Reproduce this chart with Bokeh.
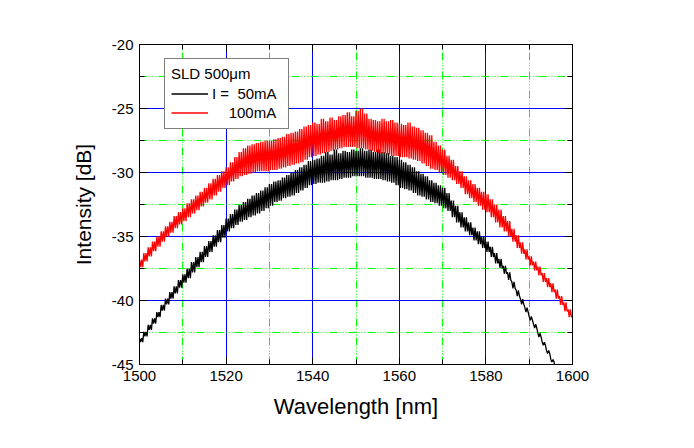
from bokeh.plotting import figure
from bokeh.models import (Range1d, SingleIntervalTicker, LinearAxis, Legend, LegendItem,
                          CustomJSTickFormatter)
from bokeh.embed import file_html
from bokeh.resources import INLINE

# ---- data (1 nm steps, ripple upper / lower envelope) ----
wavelength = list(range(1500, 1601))

black_upper = [
    -42.95, -42.45, -41.9, -41.4, -40.9, -40.35, -39.85, -39.35, -38.9, -38.4,
    -37.95, -37.5, -37.0, -36.6, -36.2, -35.75, -35.35, -34.9, -34.5, -34.1,
    -33.6, -33.25, -32.9, -32.55, -32.3, -32.05, -31.8, -31.6, -31.4, -31.15,
    -30.9, -30.7, -30.6, -30.4, -30.2, -30.0, -29.8, -29.6, -29.4, -29.1,
    -29.0, -28.9, -28.7, -28.4, -28.6, -28.2, -28.5, -28.3, -28.4, -28.2,
    -28.3, -28.1, -28.3, -28.2, -28.4, -28.2, -28.4, -28.5, -28.7, -28.8,
    -29.0, -29.2, -29.4, -29.6, -29.9, -30.1, -30.3, -30.6, -30.8, -31.0,
    -31.2, -31.6, -32.2, -32.6, -33.1, -33.5, -33.9, -34.3, -34.6, -35.0,
    -35.4, -35.8, -36.3, -36.75, -37.3, -37.8, -38.55, -39.2, -39.9, -40.55,
    -41.25, -41.85, -42.55, -43.25, -43.9, -44.6, -45.3, -45.9, -46.6, -47.2,
    -47.9,
]
black_lower = [
    -43.25, -42.8, -42.3, -41.8, -41.3, -40.8, -40.3, -39.85, -39.45, -39.0,
    -38.6, -38.25, -37.8, -37.4, -37.0, -36.6, -36.2, -35.8, -35.45, -35.1,
    -34.6, -34.35, -34.1, -33.85, -33.7, -33.5, -33.35, -33.2, -33.0, -32.8,
    -32.6, -32.3, -32.2, -32.0, -31.9, -31.8, -31.6, -31.4, -31.2, -31.0,
    -30.9, -30.8, -30.8, -30.7, -30.6, -30.6, -30.5, -30.4, -30.4, -30.3,
    -30.3, -30.3, -30.4, -30.4, -30.5, -30.5, -30.6, -30.7, -30.8, -31.0,
    -31.2, -31.3, -31.4, -31.6, -31.8, -31.9, -32.1, -32.3, -32.4, -32.6,
    -32.8, -33.0, -33.5, -33.9, -34.3, -34.6, -34.9, -35.3, -35.6, -35.9,
    -36.2, -36.6, -37.1, -37.45, -37.9, -38.4, -39.05, -39.65, -40.3, -40.9,
    -41.55, -42.15, -42.85, -43.5, -44.15, -44.8, -45.5, -46.1, -46.8, -47.4,
    -48.1,
]
red_upper = [
    -36.8, -36.3, -35.85, -35.4, -35.0, -34.6, -34.2, -33.85, -33.4, -33.1,
    -32.8, -32.4, -32.1, -31.8, -31.5, -31.2, -30.85, -30.5, -30.2, -29.9,
    -29.6, -29.2, -28.8, -28.4, -28.1, -27.9, -27.8, -27.7, -27.6, -27.5,
    -27.5, -27.4, -27.3, -27.2, -27.0, -26.9, -26.8, -26.6, -26.4, -26.3,
    -26.1, -26.2, -25.8, -26.0, -25.7, -25.9, -25.6, -25.5, -25.3, -25.6,
    -25.2, -25.0, -25.4, -25.8, -25.9, -26.0, -25.8, -26.0, -25.9, -26.1,
    -26.2, -26.3, -26.1, -26.4, -26.5, -26.7, -26.9, -27.1, -27.6, -27.9,
    -28.2, -28.7, -29.0, -29.5, -29.9, -30.3, -30.6, -30.9, -31.2, -31.5,
    -31.7, -32.1, -32.5, -32.9, -33.4, -33.8, -34.4, -34.9, -35.45, -36.0,
    -36.55, -36.95, -37.35, -37.85, -38.25, -38.65, -39.15, -39.65, -40.15, -40.7,
    -41.2,
]
red_lower = [
    -37.4, -36.95, -36.55, -36.15, -35.8, -35.4, -35.0, -34.7, -34.35, -34.05,
    -33.8, -33.5, -33.2, -32.95, -32.65, -32.35, -32.1, -31.8, -31.5, -31.2,
    -31.0, -30.7, -30.5, -30.3, -30.2, -30.1, -30.0, -29.9, -29.9, -29.9,
    -29.8, -29.8, -29.7, -29.6, -29.5, -29.4, -29.3, -29.2, -29.0, -28.8,
    -28.7, -28.6, -28.5, -28.4, -28.3, -28.2, -28.1, -28.0, -28.0, -28.0,
    -28.1, -28.1, -28.2, -28.3, -28.4, -28.5, -28.5, -28.6, -28.7, -28.7,
    -28.8, -28.8, -28.9, -29.0, -29.1, -29.3, -29.5, -29.7, -29.8, -30.0,
    -30.2, -30.4, -30.6, -30.9, -31.2, -31.7, -32.0, -32.3, -32.6, -32.9,
    -33.1, -33.5, -33.9, -34.3, -34.6, -35.0, -35.4, -35.9, -36.35, -36.8,
    -37.25, -37.65, -38.05, -38.55, -38.95, -39.35, -39.85, -40.35, -40.85, -41.3,
    -41.8,
]

x_ticks_major = 20
y_ticks_major = 5
x_tick_labels = {1500: "1500", 1520: "1520", 1540: "1540", 1560: "1560",
                 1580: "1580", 1600: "1600"}
y_tick_labels = {-20: "-20", -25: "-25", -30: "-30", -35: "-35", -40: "-40", -45: "-45"}
legend_title = "SLD 500\u03bcm"
label_50 = "I =\u00a0\u00a050mA"
label_100 = "\u00a0\u00a0\u00a0\u00a0100mA"

FONT = "Liberation Sans"


def ripple(upper, lower):
    # trace the measured ripple band: alternate between its upper and lower edge
    xs, ys = [], []
    for w, u, l in zip(wavelength, upper, lower):
        xs += [w, w + 0.25, w + 0.5, w + 0.75]
        ys += [u, l, u, l]
    return xs, ys


p = figure(width=678, height=432, output_backend="svg", toolbar_location=None,
           x_range=Range1d(1500, 1600), y_range=Range1d(-45, -20),
           min_border_left=139, min_border_right=106,
           min_border_top=44, min_border_bottom=68,
           background_fill_color="white", border_fill_color="white")
p.outline_line_color = "black"
p.outline_line_width = 1

xt = SingleIntervalTicker(interval=x_ticks_major, num_minor_ticks=2)
yt = SingleIntervalTicker(interval=y_ticks_major, num_minor_ticks=2)

p.xaxis.ticker = xt
p.yaxis.ticker = yt
p.xgrid.ticker = xt
p.ygrid.ticker = yt
for g in (p.xgrid, p.ygrid):
    g.grid_line_color = "#0000FF"
    g.grid_line_width = 1
    g.minor_grid_line_color = "#00FF00"
    g.minor_grid_line_width = 1
    g.minor_grid_line_dash = "8 2 1 2 1 2 1 2"

blank = CustomJSTickFormatter(code="return ''")
p.add_layout(LinearAxis(ticker=xt, formatter=blank), "above")
p.add_layout(LinearAxis(ticker=yt, formatter=blank), "right")

for ax in p.axis:
    ax.axis_line_color = "black"
    ax.major_tick_line_color = "black"
    ax.minor_tick_line_color = "black"
    ax.major_tick_in = 7
    ax.major_tick_out = 0
    ax.minor_tick_in = 5
    ax.minor_tick_out = 0
    ax.major_label_text_font = FONT
    ax.major_label_text_font_size = "15px"
    ax.major_label_text_color = "black"
    ax.major_label_standoff = 6
    ax.axis_label_text_font = FONT
    ax.axis_label_text_font_style = "normal"
    ax.axis_label_text_color = "black"

p.above[0].major_label_standoff = 0
p.right[0].major_label_standoff = 0

xb = p.below[0]
yl = p.left[0]
xb.major_label_overrides = x_tick_labels
yl.major_label_overrides = y_tick_labels
xb.axis_label = "Wavelength [nm]"
yl.axis_label = "Intensity [dB]"
xb.axis_label_text_font_size = "22px"
yl.axis_label_text_font_size = "21px"
xb.axis_label_standoff = 10
yl.axis_label_standoff = 14

bx, by = ripple(black_upper, black_lower)
rx, ry = ripple(red_upper, red_lower)
r_black = p.line(bx, by, line_color="black", line_width=1.3)
r_red = p.line(rx, ry, line_color="#FF0000", line_width=1.3)

legend = Legend(items=[LegendItem(label=label_50, renderers=[r_black]),
                       LegendItem(label=label_100, renderers=[r_red])],
                title=legend_title, location=(25, 235))
legend.title_text_font = FONT
legend.title_text_font_size = "15px"
legend.title_text_font_style = "normal"
legend.title_text_color = "black"
legend.title_standoff = 2
legend.label_text_font = FONT
legend.label_text_font_size = "15px"
legend.label_text_color = "black"
legend.padding = 6
legend.margin = 0
legend.spacing = 0
legend.glyph_width = 37
legend.glyph_height = 19
legend.label_height = 19
legend.label_standoff = 4
legend.label_width = 70
legend.border_line_color = "black"
legend.border_line_width = 1
legend.background_fill_color = "white"
legend.background_fill_alpha = 1
p.add_layout(legend, "center")

open("out.html", "w").write(file_html(p, INLINE))
